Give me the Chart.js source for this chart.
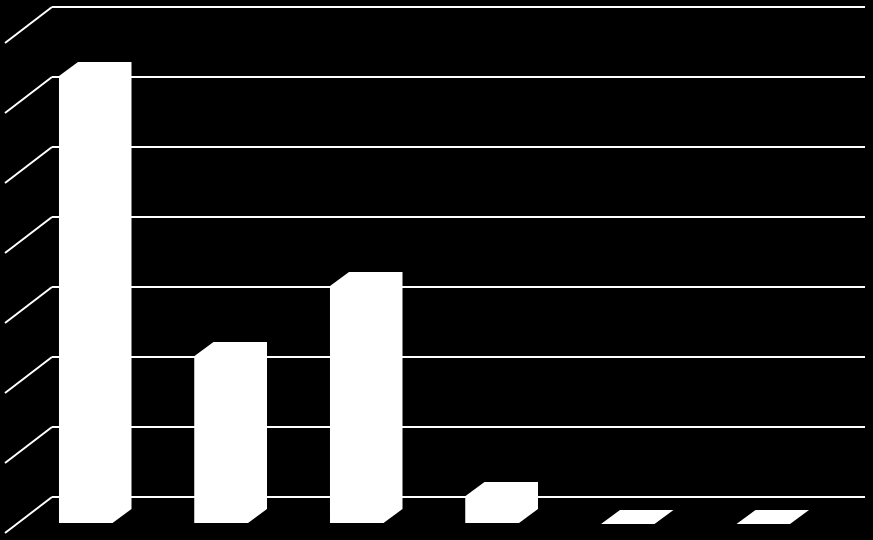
<!DOCTYPE html>
<html>
<head>
<meta charset="utf-8">
<script src="https://cdn.jsdelivr.net/npm/chart.js@4/dist/chart.umd.min.js"></script>
<style>
  html, body { margin: 0; padding: 0; background: #000; }
  #wrap { width: 873px; height: 540px; position: relative; }
</style>
</head>
<body>
<div id="wrap"><canvas id="bars"></canvas></div>
<script>
var categories = ['1', '2', '3', '4', '5', '6'];
var values = [6.4, 2.4, 3.4, 0.4, 0, 0];
var yTicks = [0, 1, 2, 3, 4, 5, 6, 7];

// bar plane sits in front of the back wall, bars have their own depth
var floorShift = { x: -34, y: 27 };
var barDepth = { x: 19, y: -14 };
var wallSlant = { x: -47, y: 36 };

var threeD = {
    id: 'threeD',
    beforeDatasetsDraw: function (chart) {
        var ctx = chart.ctx;
        var y = chart.scales.y;
        var left = chart.chartArea.left;
        ctx.save();
        ctx.strokeStyle = '#ffffff';
        ctx.lineWidth = 2;
        yTicks.forEach(function (t) {
            var py = y.getPixelForValue(t);
            ctx.beginPath();
            ctx.moveTo(left, py);
            ctx.lineTo(left + wallSlant.x, py + wallSlant.y);
            ctx.stroke();
        });
        ctx.restore();
        ctx.save();
        ctx.translate(floorShift.x, floorShift.y);
    },
    afterDatasetsDraw: function (chart) {
        var ctx = chart.ctx;
        ctx.fillStyle = '#ffffff';
        chart.getDatasetMeta(0).data.forEach(function (bar) {
            var p = bar.getProps(['x', 'y', 'base', 'width'], true);
            var l = p.x - p.width / 2, r = p.x + p.width / 2;
            // front, top and side in one outline so no seams show
            ctx.beginPath();
            ctx.moveTo(l, p.base);
            ctx.lineTo(l, p.y);
            ctx.lineTo(l + barDepth.x, p.y + barDepth.y);
            ctx.lineTo(r + barDepth.x, p.y + barDepth.y);
            ctx.lineTo(r + barDepth.x, p.base + barDepth.y);
            ctx.lineTo(r, p.base);
            ctx.closePath();
            ctx.fill();
        });
        ctx.restore();
    }
};

new Chart(document.getElementById('bars').getContext('2d'), {
    type: 'bar',
    data: {
        labels: categories,
        datasets: [{
            data: values,
            backgroundColor: '#ffffff',
            borderWidth: 0,
            barPercentage: 0.395,
            categoryPercentage: 1,
            clip: false
        }]
    },
    options: {
        responsive: true,
        maintainAspectRatio: false,
        animation: false,
        devicePixelRatio: 1,
        plugins: {
            legend: { display: false },
            tooltip: { enabled: false }
        },
        layout: {
            padding: { left: 52, right: 8, top: 7, bottom: 43 }
        },
        scales: {
            x: {
                display: false
            },
            y: {
                min: 0,
                max: 7,
                afterBuildTicks: function (axis) {
                    axis.ticks = yTicks.map(function (v) { return { value: v }; });
                },
                ticks: { display: false },
                border: { display: false },
                grid: { color: '#ffffff', lineWidth: 2, drawTicks: false }
            }
        }
    },
    plugins: [threeD]
});
</script>
</body>
</html>
